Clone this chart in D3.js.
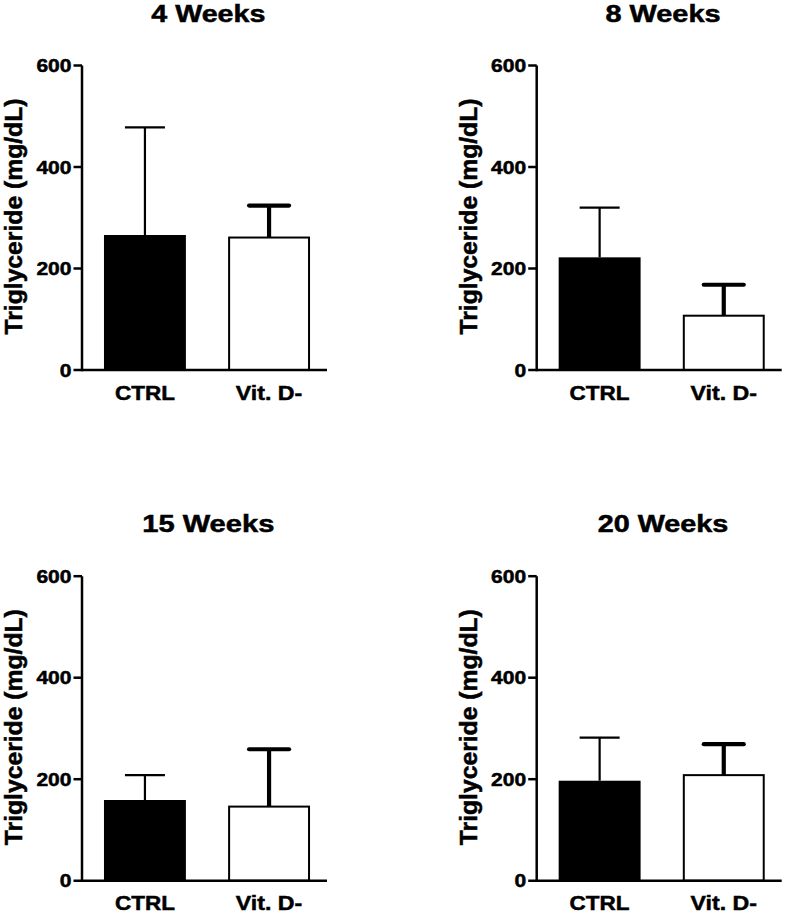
<!DOCTYPE html>
<html>
<head>
<meta charset="utf-8">
<script src="https://cdn.jsdelivr.net/npm/d3@7"></script>
<style>
  html, body { margin: 0; padding: 0; background: #fff; }
  svg { display: block; }
  text { font-family: "Liberation Sans", Arial, sans-serif; font-weight: bold; fill: #000; stroke: #000; stroke-width: 0.5px; }
</style>
</head>
<body>
<svg id="chart" width="787" height="914"></svg>
<script>
// ---- Data ----
const panels = ["4 Weeks", "8 Weeks", "15 Weeks", "20 Weeks"];
const categories = ["CTRL", "Vit. D-"];
const ctrlMean = [266, 222, 159, 197];
const ctrlErr  = [212, 98, 49, 85];
const vitMean  = [261, 107, 146, 208];
const vitErr   = [63, 61, 113, 61];
const yTicks = [0, 200, 400, 600];
const yLabel = "Triglyceride (mg/dL)";

// ---- Layout ----
const svg = d3.select("#chart");
const origins = [[82, 370], [536.7, 370], [82, 880.7], [536.7, 880.7]];
const plotH = 304.5;
const axisLen = 245;

const y = d3.scaleLinear().domain([0, 600]).range([0, -plotH]);
const x = d3.scaleBand().domain(categories).range([0, 250]).paddingInner(0.34).paddingOuter(0.177);

const textW = { "CTRL": 60, "Vit. D-": 66.5 };
const titleW = { "4 Weeks": 114, "8 Weeks": 115, "15 Weeks": 132, "20 Weeks": 130.6 };

panels.forEach((title, i) => {
  const [ox, oy] = origins[i];
  const g = svg.append("g").attr("transform", `translate(${ox},${oy})`);
  const rows = [
    { cat: categories[0], mean: ctrlMean[i], err: ctrlErr[i], fill: "#000", ew: 2.2 },
    { cat: categories[1], mean: vitMean[i], err: vitErr[i], fill: "#fff", ew: 4.2 }
  ];

  // bars
  g.selectAll("rect.bar").data(rows).enter().append("rect")
    .attr("class", "bar")
    .attr("x", d => x(d.cat) + (d.fill === "#fff" ? 1 : 0))
    .attr("width", d => x.bandwidth() - (d.fill === "#fff" ? 2 : 0))
    .attr("y", d => y(d.mean))
    .attr("height", d => -y(d.mean))
    .attr("fill", d => d.fill)
    .attr("stroke", "#000")
    .attr("stroke-width", d => d.fill === "#fff" ? 2 : 0);

  // error bars
  rows.forEach(d => {
    const cx = x(d.cat) + x.bandwidth() / 2;
    g.append("line")
      .attr("x1", cx).attr("x2", cx)
      .attr("y1", y(d.mean)).attr("y2", y(d.mean + d.err))
      .attr("stroke", "#000").attr("stroke-width", d.ew);
    g.append("line")
      .attr("x1", cx - 20).attr("x2", cx + 20)
      .attr("y1", y(d.mean + d.err)).attr("y2", y(d.mean + d.err))
      .attr("stroke", "#000").attr("stroke-width", d.ew)
      .attr("stroke-linecap", d.ew > 3 ? "round" : "butt");
  });

  // axes
  g.append("line").attr("x1", 0).attr("x2", 0)
    .attr("y1", y(600)).attr("y2", 1.2)
    .attr("stroke", "#000").attr("stroke-width", 2.5);
  g.append("line").attr("x1", -8.5).attr("x2", axisLen)
    .attr("y1", 0).attr("y2", 0)
    .attr("stroke", "#000").attr("stroke-width", 2.5);
  g.selectAll("line.tick").data(yTicks.slice(1)).enter().append("line")
    .attr("class", "tick")
    .attr("x1", -8.5).attr("x2", 0)
    .attr("y1", d => y(d)).attr("y2", d => y(d))
    .attr("stroke", "#000").attr("stroke-width", 2.5);
  g.selectAll("text.tl").data(yTicks).enter().append("text")
    .attr("class", "tl")
    .attr("x", -10.5)
    .attr("y", d => y(d) + 6.5)
    .attr("text-anchor", "end")
    .attr("font-size", 18)
    .attr("textLength", d => 11.7 * String(d).length)
    .attr("lengthAdjust", "spacingAndGlyphs")
    .text(d => d);

  // category labels
  g.selectAll("text.cat").data(categories).enter().append("text")
    .attr("class", "cat")
    .attr("x", d => x(d) + x.bandwidth() / 2)
    .attr("y", 29.5)
    .attr("text-anchor", "middle")
    .attr("font-size", 21)
    .attr("textLength", d => textW[d])
    .attr("lengthAdjust", "spacingAndGlyphs")
    .text(d => d);

  // y label
  g.append("text")
    .attr("transform", `translate(-60,${-153.5}) rotate(-90)`)
    .attr("text-anchor", "middle")
    .attr("font-size", 23.5)
    .attr("textLength", 236)
    .attr("lengthAdjust", "spacingAndGlyphs")
    .text(yLabel);

  // title
  g.append("text")
    .attr("x", 126.3)
    .attr("y", -348.3)
    .attr("text-anchor", "middle")
    .attr("font-size", 23.5)
    .attr("textLength", titleW[title])
    .attr("lengthAdjust", "spacingAndGlyphs")
    .text(title);
});
</script>
</body>
</html>
